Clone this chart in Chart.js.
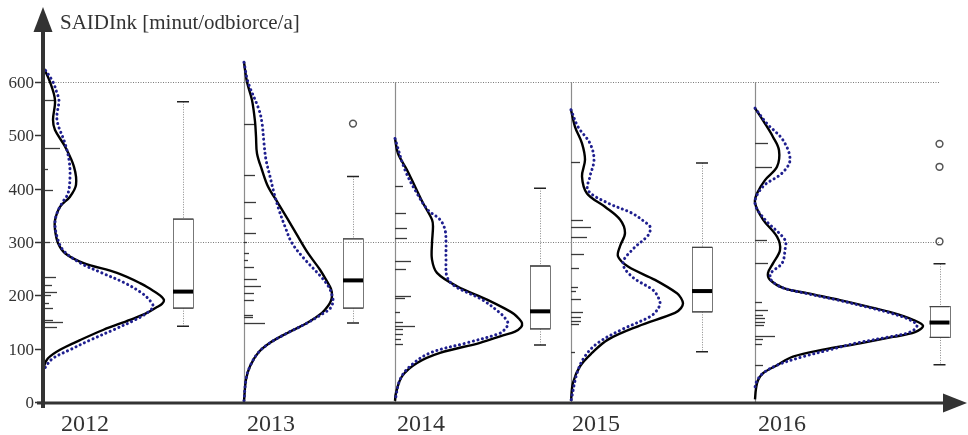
<!DOCTYPE html>
<html>
<head>
<meta charset="utf-8">
<script src="https://cdn.jsdelivr.net/npm/chart.js@4/dist/chart.umd.min.js"></script>
<style>
  html, body { margin: 0; padding: 0; background: #fff; }
  canvas { display: block; }
</style>
</head>
<body>
<canvas id="c" width="968" height="435" style="width:968px;height:435px"></canvas>
<script>
// ---- data ----
const years = ['2012', '2013', '2014', '2015', '2016'];
const yTicks = [0, 100, 200, 300, 400, 500, 600];
const refLines = [300, 600];
const axisTitle = 'SAIDInk [minut/odbiorce/a]';

// box plot statistics: [lower whisker, Q1, median, Q3, upper whisker]
const boxStats = [
  [142, 176, 207, 343, 563],
  [148, 176, 228, 306, 423],
  [107, 137, 170, 255, 401],
  [94, 169, 208, 290, 448],
  [70, 121, 149, 179, 259]
];
const outliers = [[], [522], [], [], [301, 441, 484]];

// individual observations (rug)
const rug2012 = [567, 477, 437, 398, 300, 234, 219, 206, 201, 185, 176, 154, 150, 141];
const rug2013 = [522, 426, 375, 345, 317, 300, 279, 266, 253, 230, 217, 204, 192, 164, 159, 148];
const rug2014 = [405, 354, 326, 308, 264, 250, 198, 195, 169, 150, 142, 136, 127, 118, 109];
const rug2015 = [450, 341, 328, 309, 277, 251, 216, 208, 193, 169, 160, 152, 146, 94];
const rug2016 = [485, 441, 303, 260, 188, 173, 163, 157, 150, 144, 124, 118, 109, 69];

// density estimates: levels (SAIDI value) and density width at each level
const lvlSolid2012 = [629, 600, 566, 529, 510, 479, 441, 407, 385, 366, 341, 323, 298, 279, 261, 242, 223, 210, 200, 191, 184, 178, 167, 154, 135, 116, 98, 82, 67, 52];
const denSolid2012 = [0, 7, 12, 10, 12, 22, 31, 33, 27, 17, 12, 12, 15, 22, 40, 74, 97, 109, 117, 121, 119, 114, 104, 87, 60, 37, 17, 5, 1, 0];
const lvlDot2012 = [629, 600, 579, 566, 529, 485, 454, 423, 391, 373, 354, 335, 310, 285, 261, 242, 223, 204, 190, 179, 167, 154, 135, 116, 98, 82, 67, 55];
const denDot2012 = [0, 10, 14, 16, 14, 22, 26, 27, 25, 19, 14, 12, 14, 20, 37, 59, 82, 99, 107, 110, 104, 92, 70, 47, 27, 10, 3, 0];

const lvlSolid2013 = [637, 600, 566, 526, 498, 466, 435, 404, 373, 342, 310, 279, 248, 226, 212, 200, 190, 180, 167, 148, 129, 111, 92, 67, 42, 2];
const denSolid2013 = [0, 3, 8, 11, 12, 13, 18, 24, 34, 44, 54, 64, 76, 83, 87, 88, 87, 84, 78, 63, 43, 26, 14, 6, 2, 0];
const lvlDot2013 = [637, 600, 548, 523, 485, 454, 423, 392, 360, 329, 298, 267, 235, 215, 200, 188, 175, 167, 148, 129, 111, 92, 67, 42, 2];
const denDot2013 = [0, 4, 15, 18, 20, 22, 26, 30, 35, 41, 48, 61, 77, 85, 88, 89, 86, 80, 63, 43, 26, 14, 6, 2, 0];

const lvlSolid2014 = [494, 466, 435, 404, 373, 342, 329, 298, 267, 242, 217, 192, 175, 165, 156, 148, 140, 132, 125, 111, 92, 73, 48, 17, 2];
const denSolid2014 = [0, 3, 12, 20, 28, 37, 38, 37, 37, 42, 62, 92, 110, 119, 124, 127, 126, 120, 108, 85, 45, 22, 7, 1, 0];
const lvlDot2014 = [494, 435, 391, 360, 342, 323, 298, 267, 235, 217, 192, 167, 155, 147, 139, 129, 111, 92, 67, 42, 2];
const denDot2014 = [0, 10, 22, 33, 45, 50, 51, 51, 52, 60, 87, 105, 111, 113, 111, 105, 72, 35, 15, 5, 0];

const lvlSolid2015 = [548, 516, 485, 454, 423, 391, 366, 342, 317, 292, 273, 254, 229, 204, 195, 185, 176, 167, 142, 117, 92, 67, 36, 2];
const denSolid2015 = [0, 4, 11, 14, 11, 16, 34, 49, 54, 49, 47, 57, 84, 106, 110, 112, 110, 104, 67, 37, 21, 9, 2, 0];
const lvlDot2015 = [548, 516, 485, 454, 423, 397, 373, 354, 336, 329, 320, 310, 285, 260, 235, 210, 197, 185, 172, 160, 136, 111, 86, 54, 2];
const denDot2015 = [0, 7, 19, 23, 19, 17, 37, 61, 75, 79, 79, 76, 61, 52, 61, 82, 87, 89, 86, 79, 51, 27, 14, 6, 0];

const lvlSolid2016 = [551, 522, 497, 472, 441, 416, 391, 373, 342, 310, 285, 260, 242, 229, 214, 204, 191, 178, 167, 154, 143, 131, 122, 110, 98, 85, 69, 54, 41, 25, 5];
const denSolid2016 = [0, 10, 18, 24, 22, 10, 2, 0, 8, 22, 25, 18, 13, 15, 28, 52, 85, 115, 138, 158, 168, 160, 138, 105, 68, 38, 22, 8, 3, 1, 0];
const lvlDot2016 = [551, 522, 491, 454, 429, 404, 373, 342, 304, 285, 260, 242, 229, 214, 204, 191, 178, 167, 154, 143, 131, 122, 110, 98, 85, 69, 54, 40, 28];
const denDot2016 = [0, 12, 28, 35, 27, 8, 0, 10, 30, 30, 27, 16, 16, 28, 50, 83, 112, 135, 155, 162, 155, 134, 100, 75, 48, 22, 8, 2, 0];

// ---- layout (x scale units, one unit per pixel of plot width) ----
const LAYOUT = {
  panelX: [0, 201, 352, 528, 712],
  boxX: [140, 310, 497, 659, 896.5],
  labelX: [42, 228, 378, 553, 739],
  boxHalf: 10,
  capHalf: 6,
  gridEnd: 897,
  xMax: 922,
  yMax: 750
};
// rug stroke lengths (px), one per observation
const RUG_LEN = [
  [10, 15, 3, 8, 5, 11, 7, 12, 6, 4, 8, 8, 18, 12],
  [11, 11, 12, 8, 12, 3, 5, 4, 10, 13, 17, 10, 10, 9, 9, 21],
  [8, 11, 12, 12, 16, 11, 16, 10, 5, 8, 20, 8, 8, 6, 8],
  [9, 12, 20, 16, 13, 8, 7, 5, 10, 12, 10, 10, 8, 4],
  [13, 17, 12, 13, 7, 13, 8, 10, 10, 9, 20, 8, 7, 8]
];

const rugs = [rug2012, rug2013, rug2014, rug2015, rug2016];
const solid = [
  [lvlSolid2012, denSolid2012], [lvlSolid2013, denSolid2013], [lvlSolid2014, denSolid2014],
  [lvlSolid2015, denSolid2015], [lvlSolid2016, denSolid2016]
];
const dotted = [
  [lvlDot2012, denDot2012], [lvlDot2013, denDot2013], [lvlDot2014, denDot2014],
  [lvlDot2015, denDot2015], [lvlDot2016, denDot2016]
];

const toPoints = (k, [lvls, dens]) => lvls.map((v, i) => ({ x: LAYOUT.panelX[k] + dens[i], y: v }));

const datasets = [];
years.forEach((yr, k) => {
  datasets.push({
    label: yr + ' kernel',
    data: toPoints(k, dotted[k]),
    borderColor: '#1f1f8f',
    borderWidth: 3,
    borderDash: [0.1, 4.6],
    borderCapStyle: 'round',
    showLine: true, pointRadius: 0, tension: 0.35, clip: false, fill: false
  });
  datasets.push({
    label: yr + ' density',
    data: toPoints(k, solid[k]),
    borderColor: '#000',
    borderWidth: 2.4,
    showLine: true, pointRadius: 0, tension: 0.35, clip: false, fill: false
  });
});

const SERIF = '"Liberation Serif", "DejaVu Serif", serif';
const AXIS = '#333';

const decor = {
  id: 'decor',
  beforeDatasetsDraw(chart) {
    const { ctx, scales: { x, y } } = chart;
    ctx.save();
    // dotted reference lines
    ctx.strokeStyle = '#7a7a7a';
    ctx.lineWidth = 1;
    ctx.setLineDash([1, 1.5]);
    refLines.forEach(v => {
      const py = Math.round(y.getPixelForValue(v)) + 0.5;
      ctx.beginPath();
      ctx.moveTo(x.getPixelForValue(0), py);
      ctx.lineTo(x.getPixelForValue(LAYOUT.gridEnd), py);
      ctx.stroke();
    });
    ctx.setLineDash([]);
    // panel baselines
    ctx.strokeStyle = '#8c8c8c';
    ctx.lineWidth = 1.2;
    years.forEach((yr, k) => {
      if (k === 0) return;
      const top = Math.max(600, solid[k][0][0]);
      const px = Math.round(x.getPixelForValue(LAYOUT.panelX[k])) + 0.5;
      ctx.beginPath();
      ctx.moveTo(px, y.getPixelForValue(0));
      ctx.lineTo(px, y.getPixelForValue(top));
      ctx.stroke();
    });
    // rug of observations
    ctx.strokeStyle = '#3a3a3a';
    ctx.lineWidth = 1.3;
    rugs.forEach((vals, k) => {
      const px = x.getPixelForValue(LAYOUT.panelX[k]) + (k === 0 ? 2 : 0);
      vals.forEach((v, i) => {
        const py = Math.round(y.getPixelForValue(v)) + 0.5;
        ctx.beginPath();
        ctx.moveTo(px, py);
        ctx.lineTo(px + RUG_LEN[k][i], py);
        ctx.stroke();
      });
    });
    ctx.restore();
  },
  afterDatasetsDraw(chart) {
    const { ctx, scales: { x, y } } = chart;
    ctx.save();
    // box plots
    boxStats.forEach((s, k) => {
      const cx = x.getPixelForValue(LAYOUT.boxX[k]);
      const bl = cx - LAYOUT.boxHalf, br = cx + LAYOUT.boxHalf;
      const [lo, q1, med, q3, hi] = s.map(v => y.getPixelForValue(v));
      // whiskers
      ctx.strokeStyle = '#8a8a8a';
      ctx.lineWidth = 1;
      ctx.setLineDash([1, 1.5]);
      ctx.beginPath();
      ctx.moveTo(Math.round(cx) + 0.5, hi); ctx.lineTo(Math.round(cx) + 0.5, q3);
      ctx.moveTo(Math.round(cx) + 0.5, q1); ctx.lineTo(Math.round(cx) + 0.5, lo);
      ctx.stroke();
      ctx.setLineDash([]);
      // caps
      ctx.strokeStyle = '#222';
      ctx.lineWidth = 1.5;
      ctx.beginPath();
      ctx.moveTo(cx - LAYOUT.capHalf, hi); ctx.lineTo(cx + LAYOUT.capHalf, hi);
      ctx.moveTo(cx - LAYOUT.capHalf, lo); ctx.lineTo(cx + LAYOUT.capHalf, lo);
      ctx.stroke();
      // box
      ctx.strokeStyle = '#777';
      ctx.lineWidth = 1;
      ctx.strokeRect(Math.round(bl) + 0.5, q3, br - bl, q1 - q3);
      ctx.strokeStyle = '#444';
      ctx.lineWidth = 1.3;
      ctx.beginPath();
      ctx.moveTo(bl, q3); ctx.lineTo(br, q3);
      ctx.moveTo(bl, q1); ctx.lineTo(br, q1);
      ctx.stroke();
      // median
      ctx.strokeStyle = '#000';
      ctx.lineWidth = 4;
      ctx.beginPath();
      ctx.moveTo(bl, med); ctx.lineTo(br, med);
      ctx.stroke();
      // outliers
      ctx.strokeStyle = '#555';
      ctx.lineWidth = 1.5;
      outliers[k].forEach(v => {
        ctx.beginPath();
        ctx.arc(cx, y.getPixelForValue(v), 3.4, 0, Math.PI * 2);
        ctx.stroke();
      });
    });

    // axes
    const x0 = x.getPixelForValue(0);
    const y0 = y.getPixelForValue(0);
    ctx.strokeStyle = AXIS;
    ctx.fillStyle = AXIS;
    ctx.lineWidth = 4;
    ctx.beginPath();
    ctx.moveTo(x0, y0 + 6);
    ctx.lineTo(x0, 28);
    ctx.stroke();
    ctx.beginPath();
    ctx.moveTo(x0, 7); ctx.lineTo(x0 + 9.5, 32); ctx.lineTo(x0 - 9.5, 32); ctx.closePath();
    ctx.fill();
    ctx.lineWidth = 3;
    ctx.beginPath();
    ctx.moveTo(x0 - 6, y0 + 1);
    ctx.lineTo(950, y0 + 1);
    ctx.stroke();
    ctx.beginPath();
    ctx.moveTo(967, y0 + 1); ctx.lineTo(943, y0 - 8.5); ctx.lineTo(943, y0 + 10.5); ctx.closePath();
    ctx.fill();

    // y ticks and labels
    ctx.lineWidth = 1.5;
    ctx.font = '17px ' + SERIF;
    ctx.textAlign = 'right';
    ctx.textBaseline = 'middle';
    yTicks.forEach(v => {
      const py = Math.round(y.getPixelForValue(v)) + 0.5;
      ctx.beginPath();
      ctx.moveTo(x0 - 8, py); ctx.lineTo(x0, py);
      ctx.stroke();
      ctx.fillText(String(v), x0 - 9, py + 1);
    });

    // year labels
    ctx.font = '24px ' + SERIF;
    ctx.textAlign = 'center';
    ctx.textBaseline = 'alphabetic';
    years.forEach((yr, k) => {
      ctx.fillText(yr, x.getPixelForValue(LAYOUT.labelX[k]), 431);
    });

    // axis title
    ctx.font = '21px ' + SERIF;
    ctx.textAlign = 'left';
    ctx.fillText(axisTitle, 60, 29);
    ctx.restore();
  }
};

new Chart(document.getElementById('c'), {
  type: 'scatter',
  data: { datasets },
  options: {
    responsive: false,
    animation: false,
    layout: { padding: { left: 43, right: 3, top: 2, bottom: 33 } },
    scales: {
      x: { type: 'linear', min: 0, max: LAYOUT.xMax, display: false },
      y: { type: 'linear', min: 0, max: LAYOUT.yMax, display: false }
    },
    plugins: { legend: { display: false }, tooltip: { enabled: false } }
  },
  plugins: [decor]
});
</script>
</body>
</html>
